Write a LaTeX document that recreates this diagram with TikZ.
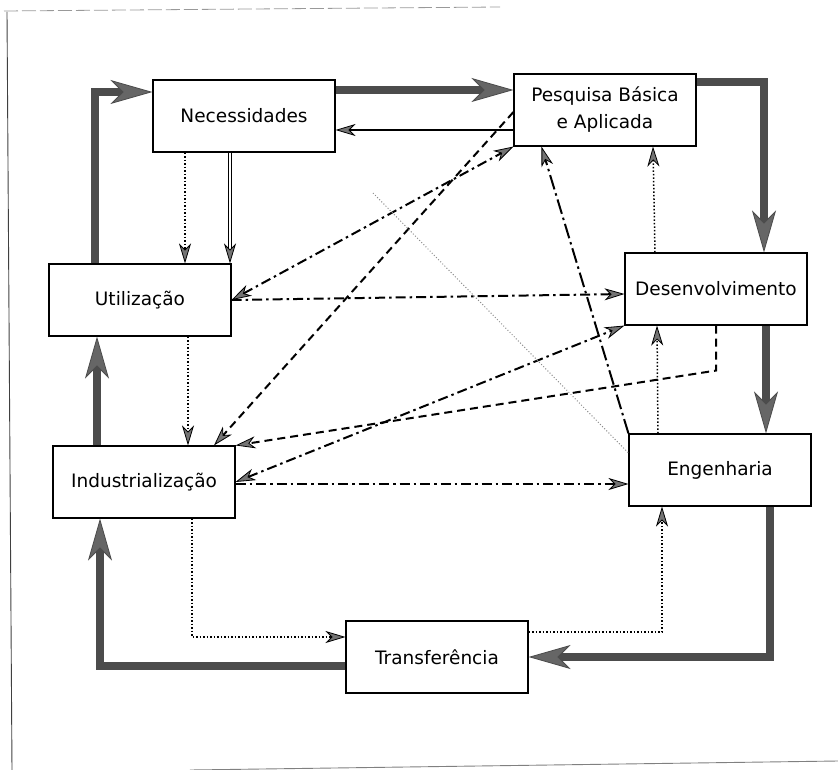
\documentclass[tikz,border=0pt]{standalone}
\usepackage{fontspec}
\setmainfont{DejaVu Sans}
\usepackage{tikz}
\usetikzlibrary{arrows.meta, positioning, calc}

\tikzset{
  bloco/.style={draw, line width=1.1pt, minimum width=182pt, minimum height=72pt,
    align=center, inner sep=2pt, font=\fontsize{18.5}{27}\selectfont},
  ciclo/.style={line width=8pt, draw=black!70,
    -{Stealth[length=42pt, width=24pt, inset=12pt, line width=0.8pt, fill=black!60]}},
  pontilhado/.style={line width=1.5pt, dash pattern=on 1.5pt off 2pt},
  tracejado/.style={line width=2pt, dash pattern=on 8pt off 5pt},
  tracoponto/.style={line width=2pt, dash pattern=on 10pt off 4pt on 2.5pt off 4pt},
  tracolongo/.style={line width=2pt, dash pattern=on 15pt off 4pt on 2.5pt off 4pt}
}

\begin{document}
\begin{tikzpicture}[x=1pt, y=-1pt,
    >={Stealth[length=20pt, width=12pt, inset=6pt, line width=0.8pt, fill=black!55]}]
  \useasboundingbox (0,0) rectangle (838,770);
  % moldura da pagina
  \draw[black!40, line width=0.8pt, dash pattern=on 14pt off 4pt] (4,11) -- (500,7);
  \draw[black!75, line width=0.9pt] (7,12) -- (12,770);
  \draw[black!50, line width=0.9pt] (190,770) -- (838,761);

  % blocos
  \node[bloco] (nec) at (244,116) {Necessidades};
  \node[bloco] (pes) at (605,110) {Pesquisa Básica\\e Aplicada};
  \node[bloco] (uti) at (140,300) {Utilização};
  \node[bloco] (des) at (716,289) {Desenvolvimento};
  \node[bloco] (ind) at (144,482) {Industrialização};
  \node[bloco] (eng) at (720,470) {Engenharia};
  \node[bloco] (tra) at (437,657) {Transferência};

  % ciclo principal
  \draw[ciclo] ([xshift=-45pt]uti.north) |- ([yshift=24pt]nec.west);
  \draw[ciclo] ([yshift=26pt]nec.east) -- ([yshift=20pt]pes.west);
  \draw[ciclo] ([yshift=28pt]pes.east) -| ([xshift=48pt]des.north);
  \draw[ciclo] ([xshift=50pt]des.south) -- ([xshift=46pt]eng.north);
  \draw[ciclo] ([xshift=50pt]eng.south) |- (tra.east);
  \draw[ciclo] ([yshift=-9pt]tra.west) -| ([xshift=-44pt]ind.south);
  \draw[ciclo] ([xshift=-47pt]ind.north) -- ([xshift=-43pt]uti.south);

  % setas finas
  \draw[->, line width=2.4pt] ([yshift=-20pt]pes.west) -- ([yshift=-14pt]nec.east);
  \draw[->, double, double distance=2pt, line width=1pt] ([xshift=-14pt]nec.south) -- ([xshift=90pt]uti.north);
  \draw[->, pontilhado] ([xshift=-59pt]nec.south) -- ([xshift=45pt]uti.north);
  \draw[->, pontilhado] ([xshift=48pt]uti.south) -- ([xshift=44pt]ind.north);
  \draw[->, pontilhado] ([xshift=48pt]ind.south) |- ([yshift=20pt]tra.west);
  \draw[->, pontilhado] ([yshift=25pt]tra.east) -| ([xshift=-58pt]eng.south);
  \draw[->, pontilhado] ([xshift=-62pt]eng.north) -- ([xshift=-59pt]des.south);
  \draw[->, pontilhado] ([xshift=-61pt]des.north) -- ([xshift=48pt]pes.south);

  % traco e ponto
  \draw[->, tracoponto] (uti.east) -- ([yshift=-5pt]des.west);
  \draw[<->, tracoponto] (uti.east) -- (pes.south west);
  \draw[->, tracoponto] ([yshift=-2pt]ind.east) -- ([yshift=-14pt]eng.west);
  \draw[<->, tracoponto] (ind.east) -- (des.south west);
  \draw[->, tracolongo] (eng.north west) -- ([xshift=28pt]pes.south west);

  % tracejadas
  \draw[->, tracejado] ([yshift=-2pt]pes.west) -- ([xshift=70pt]ind.north);
  \draw[->, tracejado] (des.south) -- ++(0,45) -- (ind.north east);

  % linha clara
  \coordinate (cl) at (373,193);
  \draw[black!45, dotted, line width=1pt] (cl) -- ([yshift=17pt]eng.west);
\end{tikzpicture}
\end{document}
